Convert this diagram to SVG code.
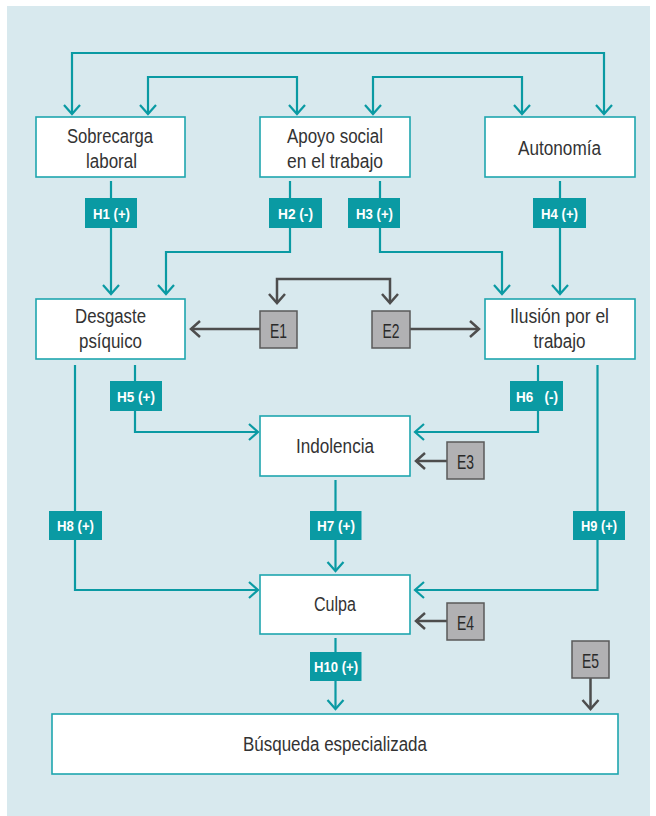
<svg xmlns="http://www.w3.org/2000/svg" width="656" height="816" viewBox="0 0 656 816">
<style>
.bg{fill:#d8e9ee}
.box{fill:#fff;stroke:#1ea6ae;stroke-width:1.6}
.t{font-family:"Liberation Sans",Arial,sans-serif;font-size:20px;fill:#333;text-anchor:middle}
.hl{fill:#0a9aa3}
.ht{font-family:"Liberation Sans",Arial,sans-serif;font-size:14.5px;font-weight:bold;fill:#fff;text-anchor:middle;white-space:pre}
.eb{fill:#b1b1b3;stroke:#5a5a5a;stroke-width:1.5}
.et{font-family:"Liberation Sans",Arial,sans-serif;font-size:21px;fill:#2a2a2a;text-anchor:middle}
.c{fill:none;stroke:#0a9aa3;stroke-width:2.2;marker-end:url(#at)}
.c2{marker-start:url(#at)}
.g{fill:none;stroke:#4d4d4d;stroke-width:2.5;marker-end:url(#ag)}
.g2{marker-start:url(#ag)}
</style>
<defs>
<marker id="at" viewBox="0 0 20 20" refX="10" refY="10" markerWidth="20" markerHeight="20" markerUnits="userSpaceOnUse" orient="auto-start-reverse"><path d="M1,2 L10,10 L1,18" fill="none" stroke="#0a9aa3" stroke-width="2.2"/></marker>
<marker id="ag" viewBox="0 0 20 20" refX="10" refY="10" markerWidth="20" markerHeight="20" markerUnits="userSpaceOnUse" orient="auto-start-reverse"><path d="M1,2 L10,10 L1,18" fill="none" stroke="#4d4d4d" stroke-width="2.5"/></marker>
</defs>
<rect class="bg" x="7" y="6" width="643" height="810"/>
<g id="connectors">
<path class="c c2" d="M72,114 V53 H604 V114"/>
<path class="c c2" d="M148,114 V77 H297 V114"/>
<path class="c c2" d="M373,114 V77 H522 V114"/>
<path class="c" d="M111,181 V294"/>
<path class="c" d="M290,181 V252 H166 V294"/>
<path class="c" d="M380,181 V252 H502 V294"/>
<path class="c" d="M560,181 V294"/>
<path class="c" d="M135,365 V432 H258"/>
<path class="c" d="M75,365 V590 H258"/>
<path class="c" d="M538,365 V432 H415"/>
<path class="c" d="M597.5,365 V590 H415"/>
<path class="c" d="M335.5,480 V571"/>
<path class="c" d="M335.5,638 V709"/>
<path class="g g2" d="M277,303 V279 H390 V303"/>
<path class="g" d="M260,329 H191"/>
<path class="g" d="M410,329 H479"/>
<path class="g" d="M447,461 H416"/>
<path class="g" d="M447,621 H416"/>
<path class="g" d="M590.5,678 V709"/>
</g>
<g id="labels">
<g id="H1"><rect class="hl" x="85" y="198" width="52" height="30"/><text class="ht" x="111.5" y="218.5" textLength="37" lengthAdjust="spacingAndGlyphs">H1 (+)</text></g>
<g id="H2"><rect class="hl" x="269" y="198" width="53" height="30"/><text class="ht" x="295.5" y="218.5" textLength="35" lengthAdjust="spacingAndGlyphs">H2 (-)</text></g>
<g id="H3"><rect class="hl" x="348" y="198" width="52" height="30"/><text class="ht" x="374.5" y="218.5" textLength="37" lengthAdjust="spacingAndGlyphs">H3 (+)</text></g>
<g id="H4"><rect class="hl" x="533" y="198" width="53" height="30"/><text class="ht" x="559.5" y="218.5" textLength="37" lengthAdjust="spacingAndGlyphs">H4 (+)</text></g>
<g id="H5"><rect class="hl" x="110" y="381" width="52" height="30"/><text class="ht" x="136" y="401.5" textLength="38" lengthAdjust="spacingAndGlyphs">H5 (+)</text></g>
<g id="H6"><rect class="hl" x="510" y="381" width="53" height="30"/><text class="ht" x="537" y="401.5" textLength="42" lengthAdjust="spacingAndGlyphs">H6   (-)</text></g>
<g id="H7"><rect class="hl" x="310" y="511" width="51.5" height="29"/><text class="ht" x="336" y="531" textLength="38" lengthAdjust="spacingAndGlyphs">H7 (+)</text></g>
<g id="H8"><rect class="hl" x="49" y="511" width="53" height="29"/><text class="ht" x="75.5" y="531" textLength="37" lengthAdjust="spacingAndGlyphs">H8 (+)</text></g>
<g id="H9"><rect class="hl" x="573" y="511" width="52" height="29"/><text class="ht" x="599" y="531" textLength="36" lengthAdjust="spacingAndGlyphs">H9 (+)</text></g>
<g id="H10"><rect class="hl" x="310" y="652" width="51.5" height="29"/><text class="ht" x="336" y="672" textLength="44" lengthAdjust="spacingAndGlyphs">H10 (+)</text></g>
</g>
<g id="sobrecarga"><rect class="box" x="36" y="117" width="149" height="60"/><text class="t" x="110" y="143" textLength="86" lengthAdjust="spacingAndGlyphs">Sobrecarga</text><text class="t" x="111.5" y="168" textLength="51" lengthAdjust="spacingAndGlyphs">laboral</text></g>
<g id="apoyo"><rect class="box" x="260" y="117" width="150" height="60"/><text class="t" x="335" y="143" textLength="96" lengthAdjust="spacingAndGlyphs">Apoyo social</text><text class="t" x="335" y="168" textLength="96" lengthAdjust="spacingAndGlyphs">en el trabajo</text></g>
<g id="autonomia"><rect class="box" x="485" y="117" width="150" height="60"/><text class="t" x="559.5" y="155" textLength="83" lengthAdjust="spacingAndGlyphs">Autonomía</text></g>
<g id="desgaste"><rect class="box" x="36" y="299" width="149" height="60"/><text class="t" x="110.5" y="323" textLength="71" lengthAdjust="spacingAndGlyphs">Desgaste</text><text class="t" x="110.5" y="348" textLength="63" lengthAdjust="spacingAndGlyphs">psíquico</text></g>
<g id="ilusion"><rect class="box" x="485" y="299" width="150" height="60"/><text class="t" x="559.5" y="323" textLength="99" lengthAdjust="spacingAndGlyphs">Ilusión por el</text><text class="t" x="559.5" y="348" textLength="52" lengthAdjust="spacingAndGlyphs">trabajo</text></g>
<g id="indolencia"><rect class="box" x="260" y="416" width="150" height="60"/><text class="t" x="335" y="453" textLength="78" lengthAdjust="spacingAndGlyphs">Indolencia</text></g>
<g id="culpa"><rect class="box" x="260" y="575" width="150" height="59"/><text class="t" x="335" y="611" textLength="42" lengthAdjust="spacingAndGlyphs">Culpa</text></g>
<g id="busqueda"><rect class="box" x="52" y="714" width="566" height="60"/><text class="t" x="335" y="751" textLength="184" lengthAdjust="spacingAndGlyphs">Búsqueda especializada</text></g>
<g id="E1"><rect class="eb" x="260" y="311" width="37" height="37"/><text class="et" x="278.5" y="337.5" textLength="17" lengthAdjust="spacingAndGlyphs">E1</text></g>
<g id="E2"><rect class="eb" x="372" y="311" width="38" height="37"/><text class="et" x="391" y="337.5" textLength="17" lengthAdjust="spacingAndGlyphs">E2</text></g>
<g id="E3"><rect class="eb" x="447" y="442" width="37" height="37"/><text class="et" x="465.5" y="468.5" textLength="17" lengthAdjust="spacingAndGlyphs">E3</text></g>
<g id="E4"><rect class="eb" x="447" y="603" width="37" height="37"/><text class="et" x="465.5" y="629.5" textLength="17" lengthAdjust="spacingAndGlyphs">E4</text></g>
<g id="E5"><rect class="eb" x="572" y="641" width="37" height="37"/><text class="et" x="590.5" y="667.5" textLength="17" lengthAdjust="spacingAndGlyphs">E5</text></g>
</svg>
